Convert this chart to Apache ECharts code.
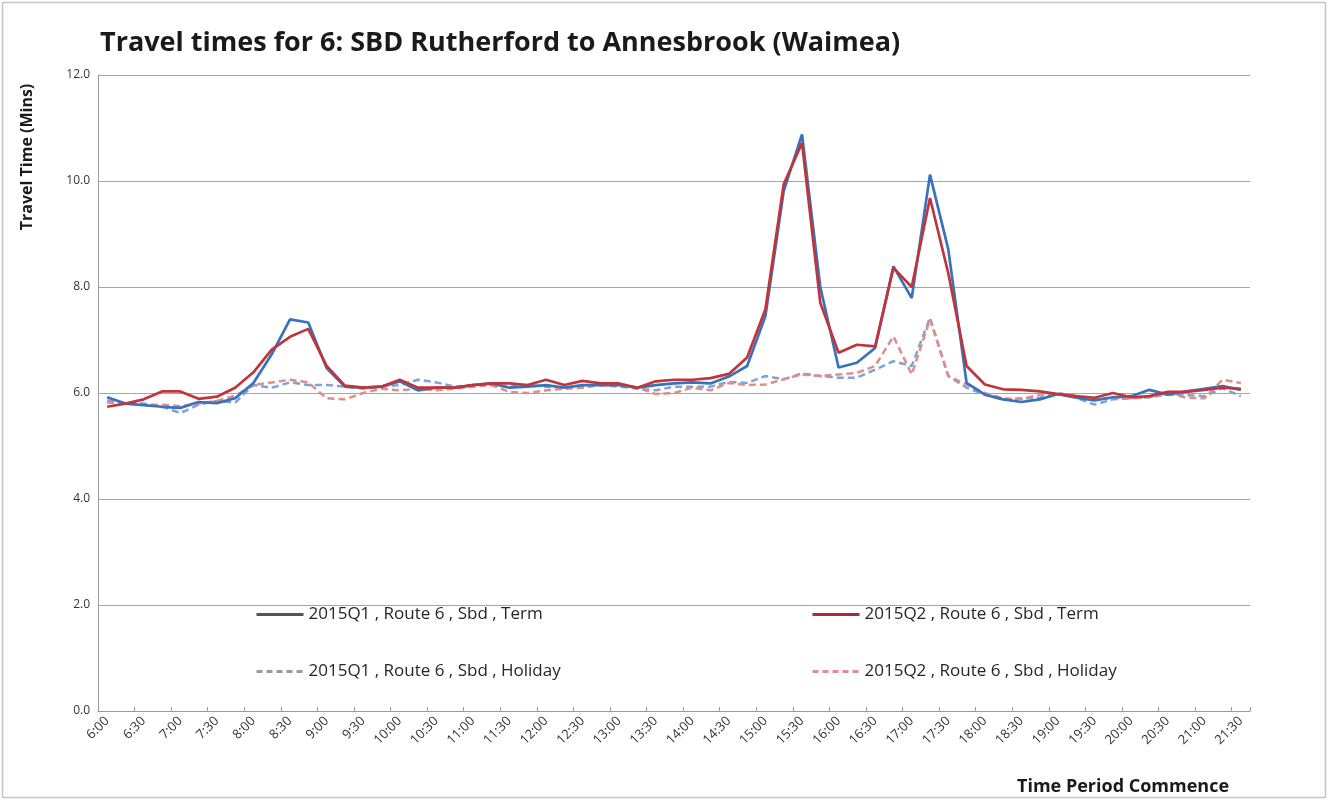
<!DOCTYPE html>
<html>
<head>
<meta charset="utf-8">
<script src="https://cdn.jsdelivr.net/npm/echarts@6/dist/echarts.min.js"></script>
<style>
html,body{margin:0;padding:0;background:#fff;}
#chart{width:1332px;height:801px;}
</style>
</head>
<body>
<div id="chart"></div>
<script>
const categories = [];
const startMin = 6*60;
for (let i = 0; i < 63; i++) {
  const m = startMin + 15*i;
  categories.push(Math.floor(m/60) + ':' + String(m%60).padStart(2,'0'));
}
const q1Term = [5.92,5.80,5.77,5.74,5.72,5.83,5.81,5.90,6.19,6.73,
  7.39,7.33,6.47,6.12,6.10,6.12,6.22,6.05,6.10,6.10,
  6.15,6.18,6.10,6.12,6.15,6.10,6.15,6.15,6.15,6.10,
  6.15,6.18,6.20,6.18,6.31,6.51,7.45,9.81,10.88,8.00,
  6.48,6.57,6.85,8.39,7.79,10.12,8.71,6.19,5.97,5.88,
  5.83,5.88,5.98,5.91,5.86,5.92,5.94,6.06,5.97,6.03,
  6.08,6.13,6.06];
const q2Term = [5.74,5.80,5.88,6.03,6.03,5.89,5.93,6.10,6.39,6.82,
  7.06,7.21,6.51,6.14,6.10,6.12,6.25,6.10,6.10,6.10,
  6.15,6.18,6.18,6.15,6.25,6.15,6.23,6.18,6.18,6.10,
  6.22,6.25,6.25,6.28,6.36,6.67,7.58,9.94,10.72,7.70,
  6.76,6.91,6.88,8.36,8.00,9.68,8.26,6.51,6.16,6.07,
  6.06,6.03,5.98,5.94,5.91,6.00,5.92,5.94,6.02,6.02,
  6.06,6.10,6.08];
const q1Holiday = [5.86,5.80,5.80,5.75,5.62,5.78,5.85,5.82,6.15,6.10,
  6.20,6.15,6.15,6.12,6.08,6.12,6.15,6.25,6.20,6.12,
  6.15,6.15,6.12,6.15,6.12,6.10,6.12,6.15,6.12,6.08,
  6.05,6.12,6.12,6.12,6.21,6.19,6.32,6.26,6.37,6.32,
  6.29,6.29,6.44,6.60,6.51,7.42,6.32,6.10,5.97,5.87,
  5.90,5.91,6.00,5.91,5.78,5.88,5.90,5.92,5.97,5.96,
  5.94,6.09,5.94];
const q2Holiday = [5.82,5.80,5.78,5.78,5.75,5.80,5.85,5.95,6.15,6.20,
  6.25,6.20,5.90,5.88,6.00,6.08,6.05,6.08,6.05,6.08,
  6.12,6.15,6.02,6.00,6.05,6.08,6.10,6.15,6.15,6.10,
  5.98,6.00,6.10,6.05,6.19,6.15,6.16,6.26,6.35,6.32,
  6.35,6.38,6.51,7.07,6.35,7.39,6.32,6.16,6.00,5.90,
  5.88,5.97,6.00,5.94,5.88,5.91,5.90,5.92,6.00,5.91,
  5.90,6.25,6.19];
const seriesNames = ['2015Q1 , Route 6 , Sbd , Term','2015Q2 , Route 6 , Sbd , Term',
  '2015Q1 , Route 6 , Sbd , Holiday','2015Q2 , Route 6 , Sbd , Holiday'];
const yTicks = [0,2,4,6,8,10,12];

const FONT = 'Open Sans';
const chart = echarts.init(document.getElementById('chart'));
const legendText = {fontFamily: FONT, fontSize: 17, color: '#262626'};
const hideSym = {opacity: 0};
chart.setOption({
  backgroundColor: '#fff',
  animation: false,
  title: {
    text: 'Travel times for 6: SBD Rutherford to Annesbrook (Waimea)',
    left: 95, top: 25,
    textStyle: {fontFamily: FONT, fontSize: 27, fontWeight: 'bold', color: '#1a1a1a'}
  },
  grid: {left: 98, right: 82, top: 75, bottom: 90, containLabel: false},
  legend: [
    {orient: 'vertical', left: 250, top: 601, itemWidth: 47, itemHeight: 16, itemGap: 40,
     textStyle: legendText,
     data: [
       {name: seriesNames[0], itemStyle: hideSym, lineStyle: {color: '#555', type: 'solid', width: 3}},
       {name: seriesNames[2], itemStyle: hideSym, lineStyle: {color: '#9a9a9a', type: [6,4], width: 3}}
     ]},
    {orient: 'vertical', left: 806, top: 601, itemWidth: 47, itemHeight: 16, itemGap: 40,
     textStyle: legendText,
     data: [
       {name: seriesNames[1], itemStyle: hideSym, lineStyle: {color: '#a82a3c', type: 'solid', width: 3}},
       {name: seriesNames[3], itemStyle: hideSym, lineStyle: {color: '#e58a98', type: [6,4], width: 3}}
     ]}
  ],
  xAxis: {
    type: 'category', data: categories, boundaryGap: true,
    axisLine: {lineStyle: {color: '#9a9a9a', width: 1}},
    axisTick: {show: true, interval: 1, length: 4, inside: true, lineStyle: {color: '#9a9a9a'}},
    axisLabel: {interval: 1, rotate: 45, fontFamily: FONT, fontSize: 13, color: '#333', margin: 8}
  },
  yAxis: {
    type: 'value', min: 0, max: 12, interval: 2,
    axisLine: {show: true, lineStyle: {color: '#9a9a9a'}},
    axisTick: {show: false},
    splitLine: {lineStyle: {color: '#a6a6a6', width: 1}},
    axisLabel: {fontFamily: FONT, fontSize: 12, color: '#333', margin: 8,
      formatter: v => v.toFixed(1)}
  },
  series: [
    {name: seriesNames[0], type: 'line', data: q1Term, symbol: 'none', z: 4,
     lineStyle: {color: '#3a71bd', width: 2.7}, itemStyle: {color: '#3a71bd'}},
    {name: seriesNames[1], type: 'line', data: q2Term, symbol: 'none', z: 5,
     lineStyle: {color: '#c0353a', width: 2.7}, itemStyle: {color: '#c0353a'}},
    {name: seriesNames[2], type: 'line', data: q1Holiday, symbol: 'none', z: 3,
     lineStyle: {color: '#7ea3d6', width: 2.5, type: [7,4]}, itemStyle: {color: '#7ea3d6'}},
    {name: seriesNames[3], type: 'line', data: q2Holiday, symbol: 'none', z: 3,
     lineStyle: {color: '#e38c88', width: 2.5, type: [7,4]}, itemStyle: {color: '#e38c88'}}
  ],
  graphic: [
    {type: 'rect', shape: {x: 2.5, y: 2.5, width: 1323, height: 795}, silent: true,
     style: {fill: 'none', stroke: '#c4c4c4', lineWidth: 1.5}},
    {type: 'text', x: 27, y: 157, rotation: Math.PI/2,
     style: {text: 'Travel Time (Mins)', font: 'bold 16px "Open Sans"', fill: '#1a1a1a',
       textAlign: 'center', textVerticalAlign: 'middle'}},
    {type: 'text', x: 1017, y: 787,
     style: {text: 'Time Period Commence', font: 'bold 18px "Open Sans"', fill: '#1a1a1a',
       textAlign: 'left', textVerticalAlign: 'middle'}}
  ]
});
</script>
</body>
</html>
